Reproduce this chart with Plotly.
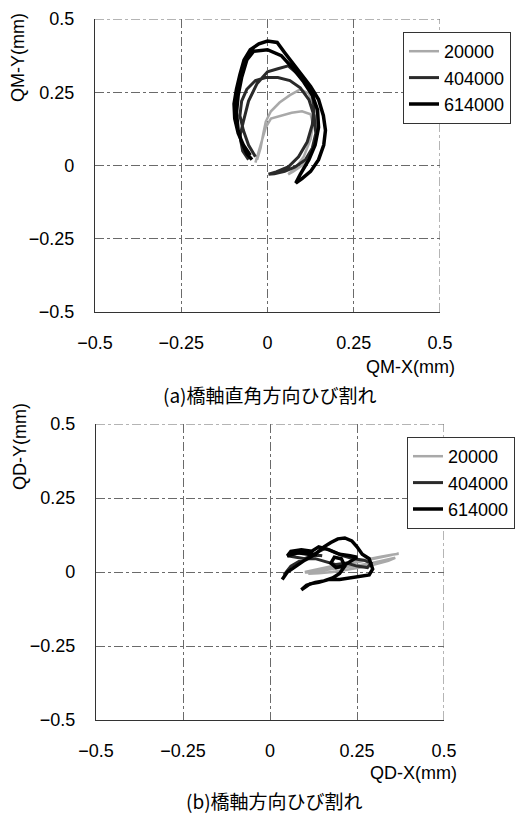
import plotly.graph_objects as go

# ---- (a) transverse crack : QM displacement trajectories (mm) ----
qm_20000_x = [-0.03, -0.02, -0.012, -0.005, 0.01, 0.035, 0.065, 0.095, 0.12, 0.135, 0.145, 0.14, 0.125, 0.1, 0.075,
              0.06, 0.08, 0.105, 0.125, 0.132, 0.125, 0.10, 0.07, 0.04, 0.01, -0.005, -0.015, -0.025, -0.035]
qm_20000_y = [0.02, 0.06, 0.11, 0.15, 0.185, 0.215, 0.24, 0.26, 0.245, 0.2, 0.14, 0.08, 0.035, 0.0, -0.02,
              -0.03, -0.01, 0.03, 0.09, 0.14, 0.175, 0.185, 0.18, 0.17, 0.16, 0.13, 0.09, 0.05, 0.01]

qm_404000_x = [-0.035, -0.055, -0.07, -0.08, -0.075, -0.06, -0.035, -0.005, 0.03, 0.065, 0.095, 0.12, 0.135, 0.14,
               0.13, 0.11, 0.08, 0.05, 0.02, 0.003, 0.025, 0.06, 0.09, 0.115, 0.13, 0.135, 0.13, 0.115, 0.09, 0.06,
               0.03, 0.0, -0.03, -0.055, -0.07, -0.08, -0.072, -0.055]
qm_404000_y = [0.03, 0.07, 0.12, 0.17, 0.22, 0.26, 0.29, 0.30, 0.30, 0.29, 0.265, 0.225, 0.17, 0.11,
               0.06, 0.02, -0.005, -0.02, -0.028, -0.03, -0.022, -0.005, 0.03, 0.08, 0.14, 0.20, 0.24, 0.275, 0.31, 0.34,
               0.33, 0.32, 0.28, 0.22, 0.15, 0.10, 0.05, 0.02]

qm_614000_x = [-0.05, -0.07, -0.085, -0.095, -0.097, -0.09, -0.08, -0.068, -0.05, -0.025, 0.0, 0.028, 0.05, 0.075,
               0.10, 0.125, 0.148, 0.162, 0.168, 0.163, 0.148, 0.125, 0.10, 0.082, 0.095, 0.12, 0.138, 0.148, 0.145,
               0.13, 0.105, 0.075, 0.04, 0.0, -0.04, -0.06, -0.075, -0.085, -0.09, -0.085, -0.075, -0.06, -0.045]
qm_614000_y = [0.035, 0.07, 0.11, 0.16, 0.21, 0.26, 0.31, 0.36, 0.395, 0.415, 0.425, 0.42, 0.385, 0.345,
               0.31, 0.27, 0.225, 0.17, 0.12, 0.07, 0.02, -0.02, -0.045, -0.06, -0.03, 0.02, 0.07, 0.13, 0.19,
               0.24, 0.285, 0.33, 0.375, 0.395, 0.39, 0.36, 0.30, 0.24, 0.18, 0.12, 0.08, 0.04, 0.02]

# ---- (b) longitudinal crack : QD displacement trajectories (mm) ----
qd_20000_x = [0.10, 0.14, 0.18, 0.22, 0.26, 0.30, 0.34, 0.37, 0.35, 0.31, 0.27, 0.23, 0.19, 0.15, 0.12, 0.10,
              0.13, 0.17, 0.21, 0.25, 0.29, 0.33, 0.36, 0.34, 0.30, 0.26, 0.22, 0.18, 0.14, 0.11]
qd_20000_y = [0.0, 0.01, 0.02, 0.025, 0.035, 0.045, 0.055, 0.062, 0.058, 0.05, 0.04, 0.03, 0.02, 0.012, 0.004, -0.002,
              0.002, 0.008, 0.015, 0.022, 0.03, 0.04, 0.048, 0.038, 0.025, 0.015, 0.008, 0.0, -0.004, -0.006]

qd_404000_x = [0.04, 0.06, 0.09, 0.12, 0.14, 0.16, 0.18, 0.21, 0.24, 0.27, 0.29, 0.28, 0.25, 0.22, 0.19, 0.16,
               0.13, 0.10, 0.07, 0.05, 0.06, 0.09, 0.12, 0.15]
qd_404000_y = [-0.01, 0.02, 0.04, 0.055, 0.07, 0.08, 0.07, 0.055, 0.045, 0.04, 0.03, 0.015, 0.02, 0.03, 0.025, 0.035,
               0.045, 0.045, 0.05, 0.055, 0.06, 0.065, 0.06, 0.055]

qd_614000_x = [0.035, 0.05, 0.075, 0.10, 0.13, 0.155, 0.175, 0.195, 0.215, 0.235, 0.25, 0.265, 0.285, 0.295, 0.285,
               0.26, 0.23, 0.20, 0.17, 0.14, 0.115, 0.09, 0.105, 0.13, 0.155, 0.18, 0.20, 0.215, 0.205, 0.185, 0.175,
               0.19, 0.21, 0.23, 0.25, 0.23, 0.2, 0.17, 0.14, 0.12, 0.09, 0.06, 0.05, 0.08, 0.11, 0.135]
qd_614000_y = [-0.025, 0.0, 0.02, 0.04, 0.06, 0.085, 0.10, 0.112, 0.115, 0.105, 0.085, 0.06, 0.045, 0.01, -0.01,
               -0.015, -0.02, -0.025, -0.025, -0.035, -0.04, -0.06, -0.045, -0.035, -0.03, -0.02, -0.005, 0.02, 0.045,
               0.05, 0.03, 0.015, 0.02, 0.035, 0.05, 0.055, 0.06, 0.075, 0.085, 0.07, 0.075, 0.07, 0.055, 0.065, 0.06,
               0.06]

series_names = ["20000", "404000", "614000"]
tick_vals = [-0.5, -0.25, 0, 0.25, 0.5]
tick_text = ["\u22120.5", "\u22120.25", "0", "0.25", "0.5"]

line_styles = [
    dict(color="#a9a9a9", width=2.5),
    dict(color="#2a2a2a", width=3),
    dict(color="#000000", width=3.5),
]

NUM_FONT = "Liberation Sans, Arial, sans-serif"
JP_FONT = "Noto Sans CJK JP, sans-serif"

fig = go.Figure()

top = [(qm_20000_x, qm_20000_y), (qm_404000_x, qm_404000_y), (qm_614000_x, qm_614000_y)]
bot = [(qd_20000_x, qd_20000_y), (qd_404000_x, qd_404000_y), (qd_614000_x, qd_614000_y)]

for name, (xs, ys), st in zip(series_names, top, line_styles):
    fig.add_trace(go.Scatter(x=xs, y=ys, mode="lines", name=name, line=st,
                             xaxis="x", yaxis="y", legend="legend"))
for name, (xs, ys), st in zip(series_names, bot, line_styles):
    fig.add_trace(go.Scatter(x=xs, y=ys, mode="lines", name=name, line=st,
                             xaxis="x2", yaxis="y2", legend="legend2"))

W, H = 522, 816


def px_x(p):
    return p / W


def px_y(p):
    return 1 - p / H


axis_common = dict(
    range=[-0.5, 0.5], tickvals=tick_vals, ticktext=tick_text, showgrid=True,
    gridcolor="#6a6a6a", griddash="dashdot", gridwidth=1, zeroline=False,
    showline=True, linecolor="#333333", linewidth=1.2, ticks="", automargin=False,
    tickfont=dict(family=NUM_FONT, size=18, color="#000"), fixedrange=True,
)

fig.update_layout(
    width=W, height=H, margin=dict(l=0, r=0, t=0, b=0, autoexpand=False),
    paper_bgcolor="white", plot_bgcolor="white", showlegend=True,
    xaxis=dict(axis_common, domain=[px_x(95), px_x(440)], anchor="y", ticklabelstandoff=14),
    yaxis=dict(axis_common, domain=[px_y(312), px_y(19)], anchor="x", ticklabelstandoff=16),
    xaxis2=dict(axis_common, domain=[px_x(96), px_x(444)], anchor="y2", ticklabelstandoff=14),
    yaxis2=dict(axis_common, domain=[px_y(720), px_y(424)], anchor="x2", ticklabelstandoff=16),
    legend=dict(x=px_x(403), y=px_y(32), xanchor="left", yanchor="top",
                bgcolor="white", bordercolor="#333", borderwidth=1,
                font=dict(family=NUM_FONT, size=18, color="#000"), tracegroupgap=0),
    legend2=dict(x=px_x(407), y=px_y(437), xanchor="left", yanchor="top",
                 bgcolor="white", bordercolor="#333", borderwidth=1,
                 font=dict(family=NUM_FONT, size=18, color="#000"), tracegroupgap=0),
)

# dashed top / right frame edges
for xr, yr in [("x", "y"), ("x2", "y2")]:
    for x0, y0, x1, y1 in [(-0.5, 0.5, 0.5, 0.5), (0.5, -0.5, 0.5, 0.5)]:
        fig.add_shape(type="line", xref=xr, yref=yr, x0=x0, y0=y0, x1=x1, y1=y1,
                      line=dict(color="#6a6a6a", width=1, dash="dashdot"), layer="below")

annotations = [
    dict(text="QM-X(mm)", x=px_x(410), y=px_y(367), font=dict(family=NUM_FONT, size=18)),
    dict(text="QM-Y(mm)", x=px_x(18), y=px_y(58), textangle=-90, font=dict(family=NUM_FONT, size=18)),
    dict(text="(a)橋軸直角方向ひび割れ", x=px_x(270), y=px_y(394), font=dict(family=JP_FONT, size=19)),
    dict(text="QD-X(mm)", x=px_x(413), y=px_y(773), font=dict(family=NUM_FONT, size=18)),
    dict(text="QD-Y(mm)", x=px_x(20), y=px_y(447), textangle=-90, font=dict(family=NUM_FONT, size=18)),
    dict(text="(b)橋軸方向ひび割れ", x=px_x(274), y=px_y(800), font=dict(family=JP_FONT, size=19)),
]
for a in annotations:
    a["font"]["color"] = "#000"
    fig.add_annotation(xref="paper", yref="paper", showarrow=False,
                       xanchor="center", yanchor="middle", **a)

fig.write_html("out.html")
